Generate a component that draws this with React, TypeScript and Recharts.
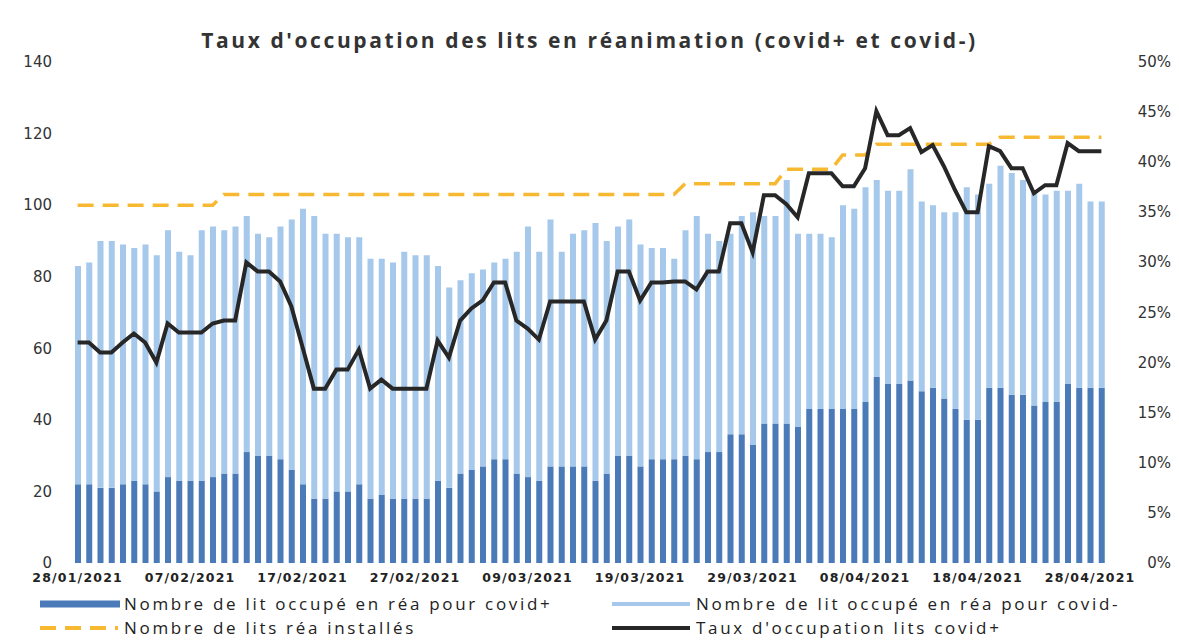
import { Bar, ComposedChart, Line, XAxis, YAxis } from "recharts";

const dates = [
  "28/01/2021", "29/01/2021", "30/01/2021", "31/01/2021",
  "01/02/2021", "02/02/2021", "03/02/2021", "04/02/2021", "05/02/2021", "06/02/2021", "07/02/2021",
  "08/02/2021", "09/02/2021", "10/02/2021", "11/02/2021", "12/02/2021", "13/02/2021", "14/02/2021",
  "15/02/2021", "16/02/2021", "17/02/2021", "18/02/2021", "19/02/2021", "20/02/2021", "21/02/2021",
  "22/02/2021", "23/02/2021", "24/02/2021", "25/02/2021", "26/02/2021", "27/02/2021", "28/02/2021",
  "01/03/2021", "02/03/2021", "03/03/2021", "04/03/2021", "05/03/2021", "06/03/2021", "07/03/2021",
  "08/03/2021", "09/03/2021", "10/03/2021", "11/03/2021", "12/03/2021", "13/03/2021", "14/03/2021",
  "15/03/2021", "16/03/2021", "17/03/2021", "18/03/2021", "19/03/2021", "20/03/2021", "21/03/2021",
  "22/03/2021", "23/03/2021", "24/03/2021", "25/03/2021", "26/03/2021", "27/03/2021", "28/03/2021",
  "29/03/2021", "30/03/2021", "31/03/2021",
  "01/04/2021", "02/04/2021", "03/04/2021", "04/04/2021", "05/04/2021", "06/04/2021", "07/04/2021",
  "08/04/2021", "09/04/2021", "10/04/2021", "11/04/2021", "12/04/2021", "13/04/2021", "14/04/2021",
  "15/04/2021", "16/04/2021", "17/04/2021", "18/04/2021", "19/04/2021", "20/04/2021", "21/04/2021",
  "22/04/2021", "23/04/2021", "24/04/2021", "25/04/2021", "26/04/2021", "27/04/2021", "28/04/2021",
  "29/04/2021",
];

// lits occupés covid+
const covidPlus = [
  22, 22, 21, 21, 22, 23, 22, 20, 24, 23, 23, 23, 24, 25, 25, 31, 30, 30, 29, 26,
  22, 18, 18, 20, 20, 22, 18, 19, 18, 18, 18, 18, 23, 21, 25, 26, 27, 29, 29, 25,
  24, 23, 27, 27, 27, 27, 23, 25, 30, 30, 27, 29, 29, 29, 30, 29, 31, 31, 36, 36,
  33, 39, 39, 39, 38, 43, 43, 43, 43, 43, 45, 52, 50, 50, 51, 48, 49, 46, 43, 40,
  40, 49, 49, 47, 47, 44, 45, 45, 50, 49, 49, 49,
];

// lits occupés covid-
const covidMinus = [
  61, 62, 69, 69, 67, 65, 67, 66, 69, 64, 63, 70, 70, 68, 69, 66, 62, 61, 65, 70,
  77, 79, 74, 72, 71, 69, 67, 66, 66, 69, 68, 68, 60, 56, 54, 55, 55, 55, 56, 62,
  70, 64, 69, 60, 65, 66, 72, 65, 64, 66, 62, 59, 59, 56, 63, 68, 61, 59, 56, 61,
  65, 58, 58, 68, 54, 49, 49, 48, 57, 56, 60, 55, 54, 54, 59, 53, 51, 52, 55, 65,
  63, 57, 62, 62, 60, 60, 58, 59, 54, 57, 52, 52,
];

const bedsInstalled = [
  100, 100, 100, 100, 100, 100, 100, 100, 100, 100, 100, 100, 100, 103, 103, 103, 103, 103, 103, 103,
  103, 103, 103, 103, 103, 103, 103, 103, 103, 103, 103, 103, 103, 103, 103, 103, 103, 103, 103, 103,
  103, 103, 103, 103, 103, 103, 103, 103, 103, 103, 103, 103, 103, 103, 106, 106, 106, 106, 106, 106,
  106, 106, 106, 110, 110, 110, 110, 110, 114, 114, 114, 117, 117, 117, 117, 117, 117, 117, 117, 117,
  117, 117, 119, 119, 119, 119, 119, 119, 119, 119, 119, 119,
];

// taux d'occupation covid+ (%)
const occupancyRate = [
  22.0, 22.0, 21.0, 21.0, 22.0, 22.9, 22.0, 20.0, 23.9, 23.0, 23.0, 23.0, 23.9, 24.2, 24.2, 30.0, 29.1, 29.1, 28.1, 25.6,
  21.5, 17.4, 17.4, 19.3, 19.3, 21.3, 17.4, 18.3, 17.4, 17.4, 17.4, 17.4, 22.2, 20.5, 24.2, 25.4, 26.2, 28.0, 28.0, 24.2,
  23.4, 22.3, 26.1, 26.1, 26.1, 26.1, 22.3, 24.2, 29.1, 29.1, 26.2, 28.0, 28.0, 28.1, 28.1, 27.3, 29.1, 29.1, 33.9, 33.9,
  31.0, 36.7, 36.7, 35.8, 34.5, 38.9, 38.9, 38.9, 37.6, 37.6, 39.4, 45.1, 42.7, 42.7, 43.4, 41.0, 41.7, 39.6, 37.2, 35.0,
  35.0, 41.6, 41.1, 39.4, 39.4, 36.9, 37.7, 37.7, 41.9, 41.1, 41.1, 41.1,
];

const leftTicks = [0, 20, 40, 60, 80, 100, 120, 140];
const rightTicks = [0, 5, 10, 15, 20, 25, 30, 35, 40, 45, 50];

const DARK = "#4a7ab7";
const LIGHT = "#a5c8eb";
const YELLOW = "#f8b932";
const BLACK = "#272727";

const data = dates.map((date, i) => ({
  date,
  covidPlus: covidPlus[i],
  covidMinus: covidMinus[i],
  beds: bedsInstalled[i],
  rate: occupancyRate[i],
}));

const axisFont = { fontFamily: "DejaVu Sans", fill: "#333" };

function RightTick({ x, y, payload }: any) {
  return (
    <text x={x + 56} y={y} dy={5} textAnchor="end" fontSize={15} {...axisFont}>
      {payload.value}%
    </text>
  );
}

function DateTick({ x, y, payload }: any) {
  return (
    <text
      x={x}
      y={y}
      dy={11}
      textAnchor="middle"
      fontFamily="DejaVu Sans"
      fontWeight={700}
      fontSize={12.5}
      letterSpacing={1.2}
      fill="#222"
    >
      {payload.value}
    </text>
  );
}

function LegendItem({ kind, label }: { kind: string; label: string }) {
  let swatch;
  if (kind === "dark") swatch = <line x1={0} y1={6} x2={80} y2={6} stroke={DARK} strokeWidth={7} />;
  else if (kind === "light") swatch = <line x1={0} y1={6} x2={78} y2={6} stroke={LIGHT} strokeWidth={4} />;
  else if (kind === "dash")
    swatch = <line x1={0} y1={6} x2={78} y2={6} stroke={YELLOW} strokeWidth={4} strokeDasharray="16 9" />;
  else swatch = <line x1={0} y1={6} x2={78} y2={6} stroke={BLACK} strokeWidth={4} />;
  return (
    <div style={{ display: "flex", alignItems: "center", height: 24 }}>
      <svg width={84} height={12}>{swatch}</svg>
      <span style={{ whiteSpace: "nowrap", lineHeight: "20px" }}>{label}</span>
    </div>
  );
}

export default function App() {
  return (
    <div style={{ position: "absolute", left: 0, top: 0, width: 1179, height: 642, background: "#fff" }}>
      <div
        style={{
          position: "absolute",
          top: 26,
          left: 0,
          width: 1179,
          textAlign: "center",
          fontFamily: "Open Sans",
          fontWeight: 700,
          fontSize: 21,
          letterSpacing: 2.6,
          color: "#333",
        }}
      >
        Taux d'occupation des lits en réanimation (covid+ et covid-)
      </div>
      <ComposedChart
        width={1179}
        height={642}
        data={data}
        margin={{ top: 62, right: 12, left: 12, bottom: 49 }}
        barSize={6}
      >
        <XAxis
          dataKey="date"
          interval={9}
          tickLine={false}
          axisLine={false}
          tick={<DateTick />}
          height={30}
        />
        <YAxis
          yAxisId="left"
          width={60}
          domain={[0, 140]}
          ticks={leftTicks}
          tickLine={false}
          axisLine={false}
          tickMargin={14}
          tick={{ ...axisFont, fontSize: 15 }}
        />
        <YAxis
          yAxisId="pct"
          orientation="right"
          width={60}
          domain={[0, 50]}
          ticks={rightTicks}
          tickLine={false}
          axisLine={false}
          tick={<RightTick />}
        />
        <Bar yAxisId="left" dataKey="covidPlus" stackId="lits" fill={DARK} isAnimationActive={false} />
        <Bar yAxisId="left" dataKey="covidMinus" stackId="lits" fill={LIGHT} isAnimationActive={false} />
        <Line
          yAxisId="left"
          dataKey="beds"
          type="linear"
          stroke={YELLOW}
          strokeWidth={3.5}
          strokeDasharray="16 9"
          dot={false}
          isAnimationActive={false}
        />
        <Line
          yAxisId="pct"
          dataKey="rate"
          type="linear"
          stroke={BLACK}
          strokeWidth={4}
          dot={false}
          isAnimationActive={false}
        />
      </ComposedChart>
      <div
        style={{
          position: "absolute",
          top: 592,
          left: 40,
          width: 1130,
          display: "grid",
          gridTemplateColumns: "572px 1fr",
          fontFamily: "Open Sans",
          fontSize: 17,
          letterSpacing: 2.7,
          color: "#222",
        }}
      >
        <LegendItem kind="dark" label="Nombre de lit occupé en réa pour covid+" />
        <LegendItem kind="light" label="Nombre de lit occupé en réa pour covid-" />
        <LegendItem kind="dash" label="Nombre de lits réa installés" />
        <LegendItem kind="black" label="Taux d'occupation lits covid+" />
      </div>
    </div>
  );
}
